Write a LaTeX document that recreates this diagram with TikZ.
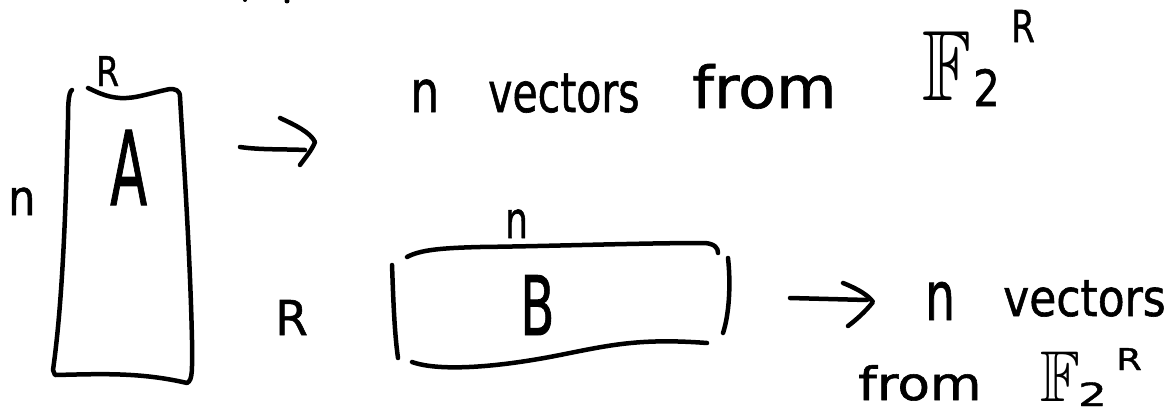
\documentclass[tikz,border=0pt]{standalone}
\usepackage{amssymb}
\usepackage{graphicx}
\usepackage{fontspec}
\setmainfont{DejaVu Sans}
\tikzset{
  ink/.style={line width=4.5pt, line cap=round, line join=round},
  hand/.style={inner sep=0pt, anchor=base west, font=\addfontfeature{FakeBold=1.2}},
}
\begin{document}
\begin{tikzpicture}[x=1pt,y=-1pt]
\useasboundingbox[fill=white] (0,0) rectangle (1174,412);

% cut-off marks at the top edge
\fill (245,0) circle (2pt);
\fill (287,1) circle (2.5pt);

% matrix A
\draw[ink] (72,90) .. controls (68,92) and (68,110) .. (68,120)
  .. controls (66,200) and (63,300) .. (53,370) -- (55,375)
  .. controls (100,374) and (140,372) .. (187,383)
  .. controls (193,380) and (192,370) .. (192,340)
  .. controls (190,250) and (183,150) .. (180,97)
  .. controls (180,90) and (175,89) .. (170,89)
  .. controls (150,93) and (135,99) .. (120,98)
  .. controls (105,97) and (95,91) .. (88,88);
\node[hand] (Ra) at (96,86) {\scalebox{3.3}[4.1]{R}};
\node[hand] (na) at (8,215) {\scalebox{4.3}[4.9]{n}};
\node[hand] (A) at (110,205) {\scalebox{5.4}[10.3]{A}};

% arrow 1
\coordinate (a1s) at (240,147);
\coordinate (a1e) at (305,150);
\draw[ink] (a1s) .. controls (260,150) and (285,149) .. (a1e);
\coordinate (h1a) at (280,118);
\coordinate (h1t) at (315,142);
\coordinate (h1b) at (300,165);
\draw[ink] (h1a) .. controls (295,125) and (310,132) .. (h1t)
  .. controls (312,150) and (305,158) .. (h1b);

% text 1
\node[hand] (t1n) at (410,112) {\scalebox{4.6}[5.8]{n}};
\node[hand] (t1v) at (488,112) {\scalebox{4.1}[5.5]{vectors}};
\node[hand] (t1f) at (692,108) {\scalebox{6.2}[5.8]{from}};
\node[hand] (t1F) at (922,100) {\scalebox{8}[10]{$\mathbb{F}$}};
\node[hand] (t1two) at (973,106) {\scalebox{4.2}[5]{2}};
\node[hand] (t1R) at (1011,42) {\scalebox{3.4}[4.4]{R}};

% matrix B
\draw[ink] (392,265) .. controls (393,290) and (394,330) .. (398,358);
\draw[ink] (407,257) .. controls (420,250) and (440,248) .. (480,247)
  .. controls (560,246) and (640,243) .. (705,243)
  .. controls (715,244) and (718,248) .. (718,253);
\draw[ink] (728,258) .. controls (731,285) and (729,315) .. (723,333);
\draw[ink] (412,362) .. controls (440,372) and (500,367) .. (560,355)
  .. controls (610,345) and (640,338) .. (707,343);
\node[hand] (nb) at (505,238) {\scalebox{3.6}[5.1]{n}};
\node[hand] (Rb) at (275,335) {\scalebox{4.7}[4.8]{R}};
\node[hand] (B) at (520,335) {\scalebox{5}[8.2]{B}};

% arrow 2
\coordinate (a2s) at (790,298);
\coordinate (a2e) at (867,300);
\draw[ink] (a2s) -- (a2e);
\coordinate (h2a) at (843,283);
\coordinate (h2t) at (873,302);
\coordinate (h2b) at (848,326);
\draw[ink] (h2a) .. controls (858,289) and (868,295) .. (h2t)
  .. controls (865,312) and (856,320) .. (h2b);

% text 2
\node[hand] (t2n) at (925,320) {\scalebox{4.7}[6.8]{n}};
\node[hand] (t2v) at (1003,316) {\scalebox{4.4}[5.1]{vectors}};
\node[hand] (t2f) at (858,400) {\scalebox{5.3}[4.6]{from}};
\node[hand] (t2F) at (1040,401) {\scalebox{6.5}[7.2]{$\mathbb{F}$}};
\node[hand] (t2two) at (1078,406) {\scalebox{4.5}[3.2]{2}};
\node[hand] (t2R) at (1116,370) {\scalebox{3.7}[3]{R}};
\end{tikzpicture}
\end{document}
